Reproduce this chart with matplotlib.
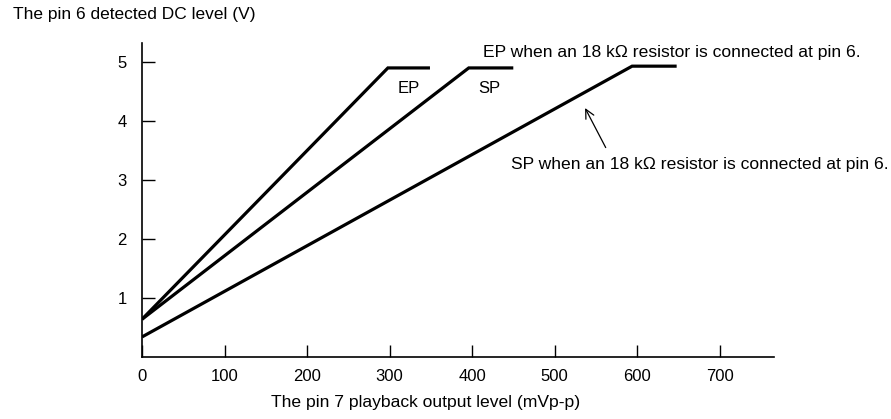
import matplotlib
matplotlib.use("Agg")
import matplotlib.pyplot as plt

plt.rcParams['font.family'] = ['Liberation Sans', 'DejaVu Sans']

# Data (x in mVp-p, y in V)
ep_x = [0, 298, 349]
ep_y = [0.64, 4.90, 4.90]
sp_x = [0, 396, 450]
sp_y = [0.64, 4.90, 4.90]
sp18_x = [0, 594, 648]
sp18_y = [0.34, 4.93, 4.93]

x_ticks = [0, 100, 200, 300, 400, 500, 600, 700]
y_ticks = [1, 2, 3, 4, 5]

fig = plt.figure(figsize=(8.91, 4.19), dpi=100)
ax = fig.add_axes([0.1594, 0.148, 0.7093, 0.749])

for xs, ys in [(ep_x, ep_y), (sp_x, sp_y), (sp18_x, sp18_y)]:
    ax.plot(xs, ys, color='black', lw=2.3, solid_capstyle='butt', solid_joinstyle='miter')

ax.set_xlim(0, 766)
ax.set_ylim(0, 5.32)
ax.spines['top'].set_visible(False)
ax.spines['right'].set_visible(False)
for s in ['left', 'bottom']:
    ax.spines[s].set_linewidth(1.2)

ax.set_xticks(x_ticks)
ax.set_yticks(y_ticks)
ax.tick_params(axis='both', direction='in', length=9, width=1.0, labelsize=12)
ax.tick_params(axis='x', pad=9)
ax.tick_params(axis='y', pad=11)

ax.text(310, 4.55, "EP", fontsize=12, ha='left', va='center')
ax.text(407, 4.55, "SP", fontsize=12, ha='left', va='center')

fig.text(483 / 891, 1 - 52 / 419, "EP when an 18 k\u03a9 resistor is connected at pin 6.",
         fontsize=12.6, ha='left', va='center')
fig.text(511 / 891, 1 - 164 / 419, "SP when an 18 k\u03a9 resistor is connected at pin 6.",
         fontsize=12.6, ha='left', va='center')

ax.annotate("", xy=(537, 4.22), xytext=(562, 3.55),
            arrowprops=dict(arrowstyle='->', color='black', lw=0.9,
                            shrinkA=0, shrinkB=0, mutation_scale=16))

fig.text(13 / 891, 1 - 15 / 419, "The pin 6 detected DC level (V)", fontsize=12.5,
         ha='left', va='center')
fig.text(426 / 891, 1 - 402 / 419, "The pin 7 playback output level (mVp-p)", fontsize=12.6,
         ha='center', va='center')

fig.savefig("out.png", dpi=100)
